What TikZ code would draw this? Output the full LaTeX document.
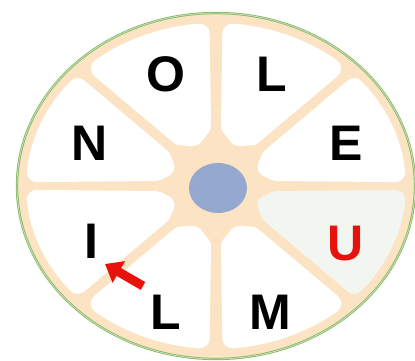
\documentclass[tikz,border=0pt]{standalone}
\usepackage{fontspec}
\setmainfont{Liberation Sans}
\usetikzlibrary{arrows.meta}
\definecolor{seftali}{HTML}{FBE3C3}
\definecolor{cerceveYesil}{HTML}{7DB55A}
\definecolor{gobekMavi}{HTML}{94A8D0}
\definecolor{acikGri}{HTML}{F3F5F1}
\definecolor{okKirmizi}{HTML}{E8120C}
\tikzset{harf/.style={font=\fontsize{50}{50}\selectfont\bfseries, inner sep=0pt},
  dilim/.style={line width=20pt, line join=round}}

\begin{document}
\begin{tikzpicture}[x=1pt,y=1pt]
\useasboundingbox (0,0) rectangle (415,361);
% tekerlek
\begin{scope}[shift={(216,175)}]
\fill[seftali] (0,0) ellipse [x radius=200, y radius=173];
\foreach \a/\tA/\tB/\renk in {0/0/40.86/white,45/40.86/90/white,90/90/139.14/white,
    135/139.14/180/white,180/180/220.86/white,225/220.86/270/white,
    270/270/319.14/white,315/319.14/360/acikGri}{
  \pgfmathsetmacro\tC{(\tA+\tB)/2}
  \filldraw[\renk,dilim] ([rotate=\tB]60,-15) -- (\tC:55) -- ([rotate=\tA]60,15)
    \foreach \i in {0,...,12}{ -- ({\a+5.2+\i*34.6/12}:180 and 153) } -- cycle;
}
\draw[cerceveYesil,line width=0.7pt,double=cerceveYesil!45,double distance=0.9pt]
  (0,0) ellipse [x radius=199, y radius=173];
\fill[gobekMavi] (2,-2) ellipse [x radius=29, y radius=25];
\end{scope}
% harfler
\node[harf] (harfO) at (166,287) {O};
\node[harf] (harfL) at (272,287) {L};
\node[harf] (harfN) at (90,218) {N};
\node[harf] (harfE) at (346,218) {E};
\node[harf] (harfI) at (91,120) {I};
\node[harf,okKirmizi] (harfU) at (346,117) {U};
\node[harf] (harfLalt) at (166,49) {L};
\node[harf] (harfM) at (270,49) {M};
% ok
\coordinate (okKuyruk) at (143,75);
\coordinate (okUcu) at (105,97);
\draw[okKirmizi,line width=9pt,-{Triangle[width=24pt,length=16pt]}] (okKuyruk) -- (okUcu);
\end{tikzpicture}
\end{document}
